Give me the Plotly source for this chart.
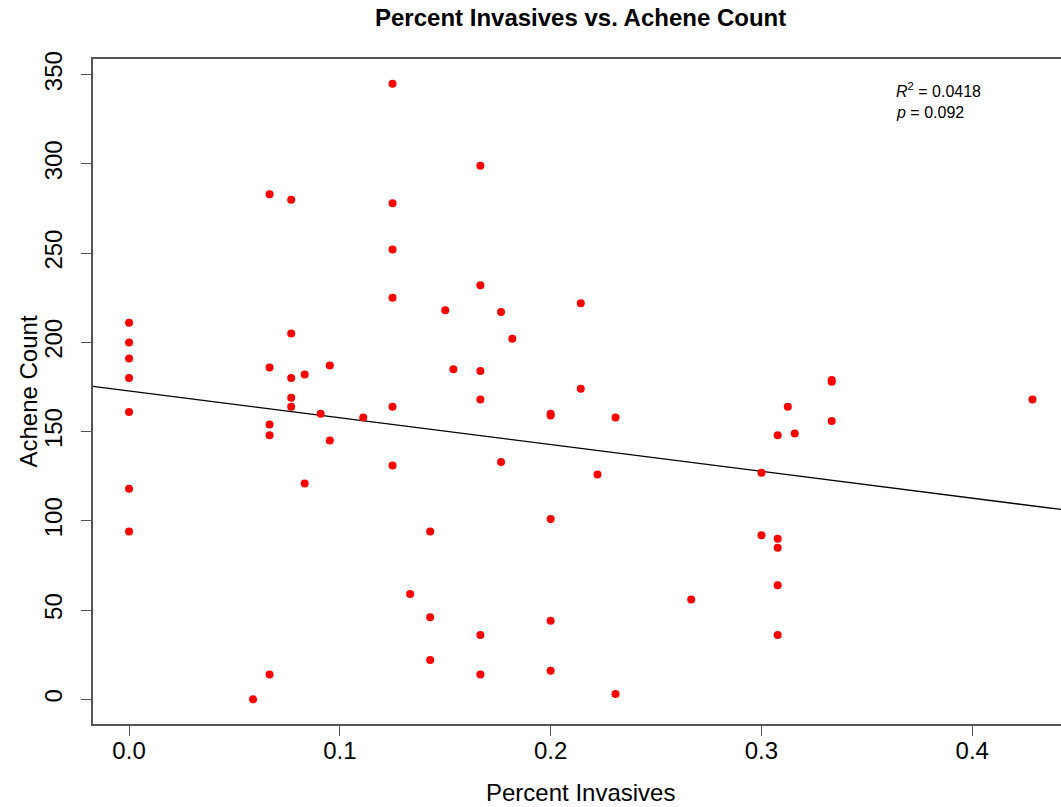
import plotly.graph_objects as go

# Data
percent_invasives = (
    [0.0] * 7 + [1/17] + [1/15] * 5 + [1/13] * 5 + [1/12] * 2 + [1/11] + [2/21] * 2 + [1/9]
    + [0.125] * 6 + [2/15] + [1/7] * 3 + [0.15] + [2/13] + [1/6] * 6 + [3/17] * 2 + [2/11]
    + [0.2] * 5 + [3/14] * 2 + [2/9] + [3/13] * 2 + [4/15] + [0.3] * 2 + [4/13] * 5
    + [5/16] + [6/19] + [1/3] * 3 + [3/7]
)
achene_count = [
    211, 200, 191, 180, 161, 118, 94,
    0,
    283, 186, 154, 148, 14,
    280, 205, 180, 169, 164,
    182, 121,
    160,
    187, 145,
    158,
    345, 278, 252, 225, 164, 131,
    59,
    94, 46, 22,
    218,
    185,
    299, 232, 184, 168, 36, 14,
    217, 133,
    202,
    160, 159, 101, 44, 16,
    222, 174,
    126,
    158, 3,
    56,
    127, 92,
    148, 90, 85, 64, 36,
    164,
    149,
    179, 178, 156,
    168,
]

fit_intercept = 172.8
fit_slope = -150.2
r_squared_text = "0.0418"
p_value_text = "0.092"

x_range = [-0.0171, 0.4421]
y_range = [-13.8, 358.8]
x_ticks = [0.0, 0.1, 0.2, 0.3, 0.4]
x_tick_labels = ["0.0", "0.1", "0.2", "0.3", "0.4"]
y_ticks = [0, 50, 100, 150, 200, 250, 300, 350]

FONT = "Liberation Sans, Arial, Helvetica, sans-serif"

fig = go.Figure()

fig.add_trace(go.Scatter(
    x=x_range,
    y=[fit_intercept + fit_slope * v for v in x_range],
    mode="lines",
    line=dict(color="black", width=1.3),
    hoverinfo="skip",
    showlegend=False,
))

fig.add_trace(go.Scatter(
    x=percent_invasives,
    y=achene_count,
    mode="markers",
    marker=dict(color="#FF0000", size=8, line=dict(width=0)),
    showlegend=False,
))

fig.update_layout(
    width=1061,
    height=807,
    margin=dict(l=93, r=0, t=59, b=83),
    paper_bgcolor="white",
    plot_bgcolor="white",
    font=dict(family=FONT, color="black"),
    showlegend=False,
)

fig.update_xaxes(
    range=x_range,
    tickmode="array",
    tickvals=x_ticks,
    ticktext=x_tick_labels,
    ticks="outside",
    ticklen=10,
    tickwidth=1.3,
    tickcolor="#555555",
    tickfont=dict(size=24, family=FONT, color="black"),
    ticklabelstandoff=-6,
    showgrid=False,
    zeroline=False,
    showline=True,
    linecolor="#555555",
    linewidth=1.5,
    mirror=True,
)
fig.update_yaxes(
    range=y_range,
    tickmode="array",
    tickvals=y_ticks,
    ticks="outside",
    ticklen=10,
    tickwidth=1.3,
    tickcolor="#555555",
    tickfont=dict(size=24, family=FONT, color="black"),
    tickangle=-90,
    ticklabelstandoff=10,
    showgrid=False,
    zeroline=False,
    showline=True,
    linecolor="#555555",
    linewidth=1.5,
)

annotations = [
    dict(text="<b>Percent Invasives vs. Achene Count</b>", x=0.5037, y=1.0617,
         xref="paper", yref="paper", xanchor="center", yanchor="middle",
         showarrow=False, font=dict(size=24, family=FONT, color="black")),
    dict(text="Percent Invasives", x=0.5037, y=-0.1023,
         xref="paper", yref="paper", xanchor="center", yanchor="middle",
         showarrow=False, font=dict(size=24, family=FONT, color="black")),
    dict(text="Achene Count", x=-0.0671, y=0.5,
         xref="paper", yref="paper", xanchor="center", yanchor="middle",
         textangle=-90, showarrow=False, font=dict(size=24, family=FONT, color="black")),
    dict(text="<i>R</i><sup>2</sup> = " + r_squared_text, x=0.8275, y=0.9534,
         xref="paper", yref="paper", xanchor="left", yanchor="middle",
         showarrow=False, font=dict(size=16, family=FONT, color="black")),
    dict(text="<i>p</i> = " + p_value_text, x=0.8275, y=0.9188,
         xref="paper", yref="paper", xanchor="left", yanchor="middle",
         showarrow=False, font=dict(size=16, family=FONT, color="black")),
]
fig.update_layout(annotations=annotations)

fig.write_html(
    "out.html",
    config={"displayModeBar": False},
    post_script="document.body.style.margin='0';document.body.style.padding='0';"
                "document.body.style.overflow='hidden';",
)
